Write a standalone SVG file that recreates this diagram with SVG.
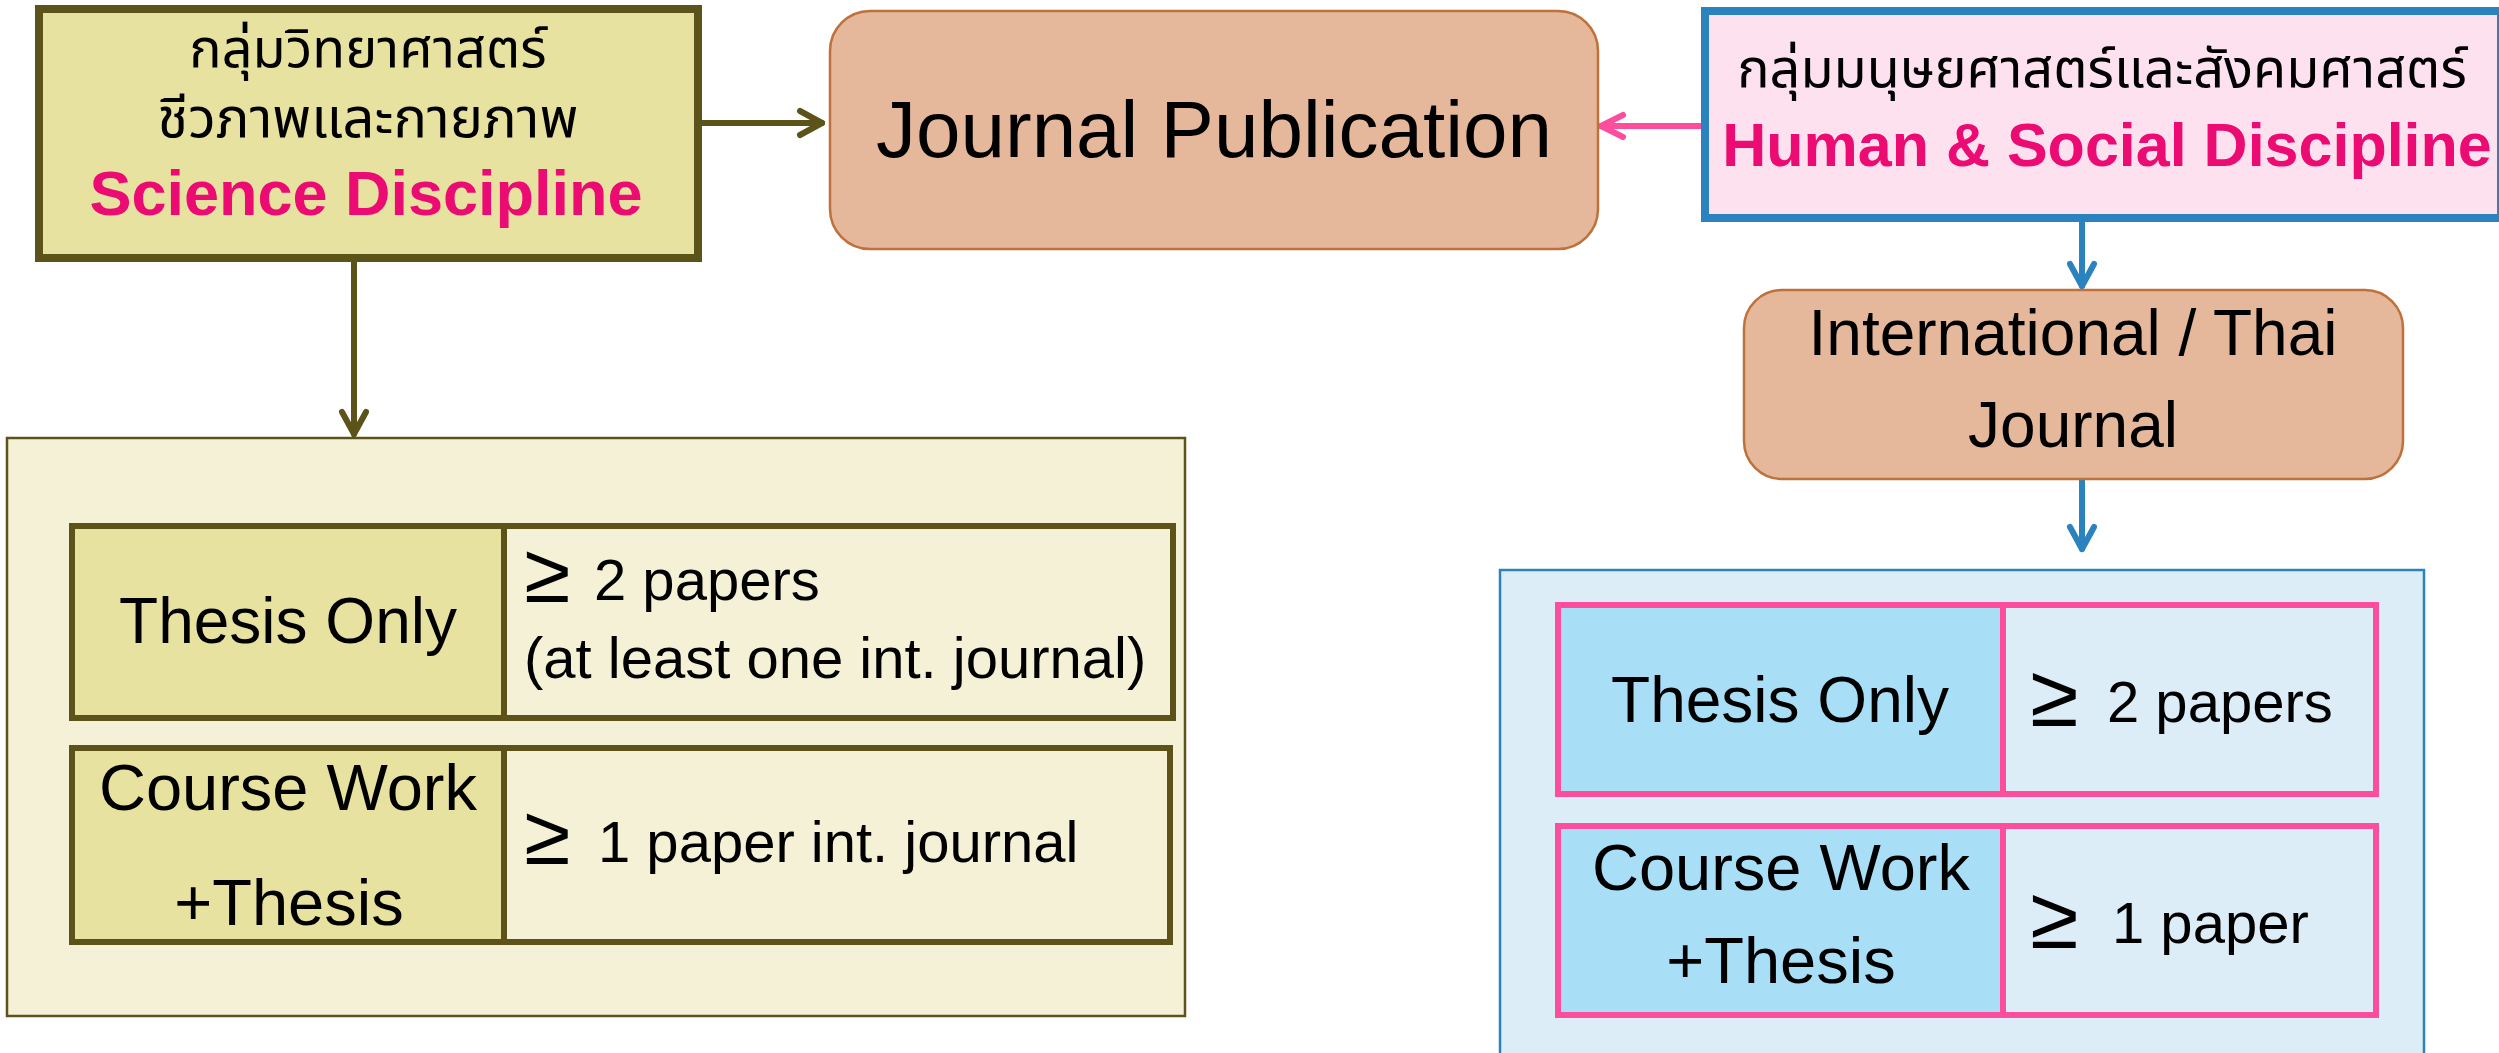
<svg xmlns="http://www.w3.org/2000/svg" width="2499" height="1053" viewBox="0 0 2499 1053">
<style>
  .t { font-family: "Liberation Sans", Arial, sans-serif; fill: #000; }
  .th { font-family: "Noto Sans Thai", "Noto Sans Thai UI", Tahoma, Loma, Garuda, "Noto Sans", "DejaVu Sans", sans-serif; fill: #000; }
  .pk { font-family: "Liberation Sans", Arial, sans-serif; font-weight: bold; fill: #EC0A73; }
  .conn { fill: none; stroke-width: 6; stroke-linecap: round; }
  .ge { font-family: "Liberation Sans", "DejaVu Sans", sans-serif; }
</style>
<defs>
  <marker id="ah-olive" markerUnits="userSpaceOnUse" viewBox="-30 -20 40 40" markerWidth="40" markerHeight="40" refX="0" refY="0" orient="auto" overflow="visible">
    <path d="M-22,-12 L0,0 L-22,12" fill="none" stroke="#5B5319" stroke-width="6" stroke-linecap="round" stroke-linejoin="round"/>
  </marker>
  <marker id="ah-pink" markerUnits="userSpaceOnUse" viewBox="-30 -20 40 40" markerWidth="40" markerHeight="40" refX="0" refY="0" orient="auto" overflow="visible">
    <path d="M-22,-11 L0,0 L-22,11" fill="none" stroke="#FD4E9E" stroke-width="6" stroke-linecap="round" stroke-linejoin="round"/>
  </marker>
  <marker id="ah-blue" markerUnits="userSpaceOnUse" viewBox="-30 -20 40 40" markerWidth="40" markerHeight="40" refX="0" refY="0" orient="auto" overflow="visible">
    <path d="M-22,-12 L0,0 L-22,12" fill="none" stroke="#2A82BE" stroke-width="6" stroke-linecap="round" stroke-linejoin="round"/>
  </marker>
</defs>
<rect width="2499" height="1053" fill="#FFFFFF"/>

<g id="science-panel">
  <rect x="7" y="438" width="1178" height="578" fill="#F5F1D6" stroke="#5B5319" stroke-width="2.5"/>
</g>
<g id="human-panel">
  <rect x="1500" y="570" width="924" height="500" fill="#DDEDF8" stroke="#2A82BE" stroke-width="2.5"/>
</g>

<g id="connectors">
  <line class="conn" x1="702" y1="123" x2="822" y2="123" stroke="#5B5319" marker-end="url(#ah-olive)"/>
  <line class="conn" x1="354" y1="262" x2="354" y2="434" stroke="#5B5319" marker-end="url(#ah-olive)"/>
  <line class="conn" x1="1701" y1="126" x2="1601" y2="126" stroke="#FD4E9E" marker-end="url(#ah-pink)"/>
  <line class="conn" x1="2082" y1="221" x2="2082" y2="286" stroke="#2A82BE" stroke-width="5" marker-end="url(#ah-blue)"/>
  <line class="conn" x1="2082" y1="479" x2="2082" y2="549" stroke="#2A82BE" stroke-width="5" marker-end="url(#ah-blue)"/>
</g>

<g id="science">
  <rect x="39" y="9" width="659" height="249" fill="#E8E2A0" stroke="#5B5319" stroke-width="8"/>
  <text class="th" text-anchor="middle"><tspan x="368" y="67" font-size="54">กลุ่มวิทยาศาสตร์</tspan><tspan x="368" y="137" font-size="56">ชีวภาพและกายภาพ</tspan></text>
  <text class="pk" x="366" y="215" font-size="63" text-anchor="middle">Science Discipline</text>
</g>

<g id="journal-publication">
  <rect x="830" y="11" width="768" height="238" rx="40" ry="40" fill="#E5B89B" stroke="#C0703A" stroke-width="2.5"/>
  <text class="t" x="1214" y="157" font-size="80" text-anchor="middle">Journal Publication</text>
</g>

<g id="human">
  <rect x="1705" y="11" width="796" height="207" fill="#FDE1EF" stroke="#2A82BE" stroke-width="8"/>
  <text class="th" x="2102" y="87" font-size="54" text-anchor="middle">กลุ่มมนุษยศาสตร์และสังคมศาสตร์</text>
  <text class="pk" x="2107" y="166" font-size="61" text-anchor="middle">Human &amp; Social Discipline</text>
</g>

<g id="international-thai-journal">
  <rect x="1744" y="290" width="659" height="189" rx="38" ry="38" fill="#E5B89B" stroke="#C0703A" stroke-width="2.5"/>
  <text class="t" x="2073" y="355" font-size="64" text-anchor="middle">International / Thai</text>
  <text class="t" x="2073" y="447" font-size="64" text-anchor="middle">Journal</text>
</g>

<g id="sci-thesis-only">
  <rect x="72" y="526" width="432" height="192" fill="#E8E2A0" stroke="#5B5319" stroke-width="6"/>
  <text class="t" x="288" y="643" font-size="64" text-anchor="middle">Thesis Only</text>
</g>
<g id="sci-thesis-only-req">
  <rect x="504" y="526" width="669" height="192" fill="#F5F1D6" stroke="#5B5319" stroke-width="6"/>
  <text class="t ge" x="524" y="602" font-size="84">≥</text>
  <text class="t" x="594" y="600" font-size="58">2 papers</text>
  <text class="t" x="524" y="678" font-size="58">(at least one int. journal)</text>
</g>
<g id="sci-coursework">
  <rect x="72" y="748" width="432" height="194" fill="#E8E2A0" stroke="#5B5319" stroke-width="6"/>
  <text class="t" x="288" y="810" font-size="65" text-anchor="middle">Course Work</text>
  <text class="t" x="289" y="925" font-size="65" text-anchor="middle">+Thesis</text>
</g>
<g id="sci-coursework-req">
  <rect x="504" y="748" width="666" height="194" fill="#F5F1D6" stroke="#5B5319" stroke-width="6"/>
  <text class="t ge" x="524" y="864" font-size="84">≥</text>
  <text class="t" x="598" y="862" font-size="58">1 paper int. journal</text>
</g>

<g id="hum-thesis-only">
  <rect x="1558" y="605" width="445" height="189" fill="#A9DEF7" stroke="#FD4E9E" stroke-width="6"/>
  <text class="t" x="1780" y="722" font-size="64" text-anchor="middle">Thesis Only</text>
</g>
<g id="hum-thesis-only-req">
  <rect x="2003" y="605" width="373" height="189" fill="#DDEDF8" stroke="#FD4E9E" stroke-width="6"/>
  <text class="t ge" x="2030" y="726" font-size="88">≥</text>
  <text class="t" x="2107" y="722" font-size="58">2 papers</text>
</g>
<g id="hum-coursework">
  <rect x="1558" y="826" width="445" height="189" fill="#A9DEF7" stroke="#FD4E9E" stroke-width="6"/>
  <text class="t" x="1781" y="890" font-size="65" text-anchor="middle">Course Work</text>
  <text class="t" x="1781" y="983" font-size="65" text-anchor="middle">+Thesis</text>
</g>
<g id="hum-coursework-req">
  <rect x="2003" y="826" width="373" height="189" fill="#DDEDF8" stroke="#FD4E9E" stroke-width="6"/>
  <text class="t ge" x="2030" y="948" font-size="88">≥</text>
  <text class="t" x="2112" y="943" font-size="58">1 paper</text>
</g>
</svg>
